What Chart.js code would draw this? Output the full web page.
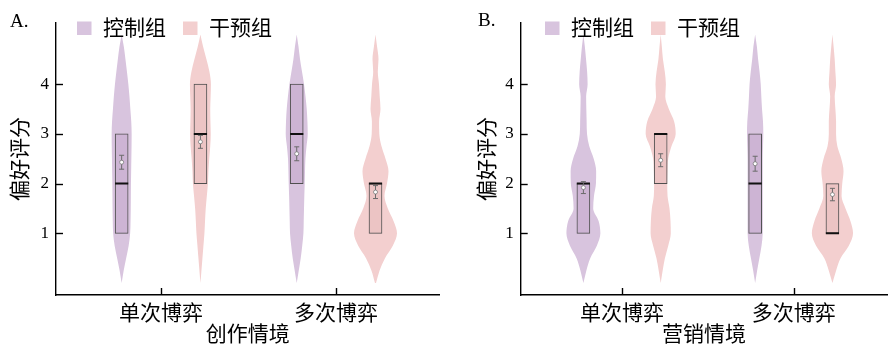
<!DOCTYPE html>
<html>
<head>
<meta charset="utf-8">
<script src="https://cdn.jsdelivr.net/npm/chart.js@4/dist/chart.umd.min.js"></script>
<style>
  html, body { margin: 0; padding: 0; background: #fff; overflow: hidden; }
  #wrap { position: relative; width: 896px; height: 346px; }
  canvas { position: absolute; top: 0; }
  #panelA { left: 0; }
  #panelB { left: 448px; }
</style>
</head>
<body>
<div id="wrap">
  <canvas id="panelA" width="448" height="346"></canvas>
  <canvas id="panelB" width="448" height="346"></canvas>
</div>
<script>
// ---- data ----
const groups = ['控制组', '干预组'];
const games = ['单次博弈', '多次博弈'];
const yTicks = [1, 2, 3, 4];
const densityLevels = [0, 0.25, 0.5, 0.75, 1, 1.25, 1.5, 1.75, 2, 2.25, 2.5, 2.75, 3, 3.25, 3.5, 3.75, 4, 4.25, 4.5, 4.75, 5];

// 创作情境 — control group
const ctrlQ1A = [1, 2];
const ctrlMedA = [2, 3];
const ctrlQ3A = [3, 4];
const ctrlMeanA = [2.43, 2.60];
const ctrlSeA = [0.14, 0.14];
const ctrlDensA = [
  [0, 2, 4.5, 7, 8.5, 8.9, 9.1, 9.2, 9.3, 9.5, 9.7, 9.9, 10, 9.6, 8.7, 7.8, 6.7, 5.3, 3.8, 2.2, 0],
  [0, 2, 4, 5.5, 6.7, 7, 7.3, 7.6, 8, 8.3, 8.7, 9.8, 11, 10.7, 10, 8.8, 7.3, 5.3, 3.3, 1.8, 0]
];
// 创作情境 — intervention group
const intQ1A = [2, 1];
const intMedA = [3, 2];
const intQ3A = [4, 2];
const intMeanA = [2.84, 1.83];
const intSeA = [0.13, 0.13];
const intDensA = [
  [0, 1, 2, 3, 4, 4.6, 5.3, 6.4, 7.5, 8, 8.8, 9.8, 10.3, 10, 9.8, 10.2, 10.5, 9, 6, 2.7, 0],
  [0.5, 4, 9.5, 17.3, 21.5, 18, 12.3, 9, 11.5, 13, 10, 6, 3.8, 3.6, 5, 4.2, 3.5, 2.3, 3, 1.6, 0]
];

// 营销情境 — control group
const ctrlQ1B = [1, 1];
const ctrlMedB = [2, 2];
const ctrlQ3B = [2, 3];
const ctrlMeanB = [1.92, 2.40];
const ctrlSeB = [0.12, 0.15];
const ctrlDensB = [
  [0, 3, 7, 13.7, 17.3, 15.5, 10, 10.8, 12.8, 13, 10.5, 6, 3.7, 3.3, 3, 2.8, 4.3, 3.8, 2.7, 1.5, 0],
  [0, 2, 4.3, 6.5, 7.7, 7.7, 7.7, 7.7, 7.7, 7.7, 7.7, 8, 8.3, 8, 7, 6.3, 5.7, 4.5, 3, 1.8, 0]
];
// 营销情境 — intervention group
const intQ1B = [2, 1];
const intMedB = [3, 1];
const intQ3B = [3, 2];
const intMeanB = [2.47, 1.78];
const intSeB = [0.13, 0.125];
const intDensB = [
  [0, 2, 4.3, 7.7, 10.3, 10, 9, 7, 6.7, 7, 7.7, 11, 15.3, 13.7, 8.3, 4.7, 5.3, 4.2, 2.3, 1.2, 0],
  [0, 3.7, 8.3, 16.7, 21, 18.3, 13.3, 9.3, 10, 11.3, 9, 5, 3.7, 3.7, 3, 2.3, 3.7, 3, 2.3, 1.2, 0]
];

// ---- styling ----
const FONT = "'Liberation Serif', 'Noto Sans CJK SC', serif";
const DENS_TO_X = 1 / 175;     // violin half-width per density unit, in x-axis units
const GROUP_OFFSET = 0.225;    // distance of each group from its category centre
const palettes = [
  { violin: '#D8C4DE', box: '#CDB4D4' },
  { violin: '#F3CFCF', box: '#ECC4C4' }
];

Chart.defaults.font.family = FONT;
Chart.defaults.color = '#000';

function groupDatasets(st, sign, pal) {
  const ds = [];
  const xs = games.map((g, gi) => gi + 1 + sign * GROUP_OFFSET);
  xs.forEach((c, gi) => {
    const d = st.dens[gi];
    ds.push({
      type: 'line', indexAxis: 'y',
      data: densityLevels.map((y, i) => ({ x: c - d[i] * DENS_TO_X, y })),
      borderWidth: 0, pointRadius: 0, backgroundColor: pal.violin,
      fill: false, cubicInterpolationMode: 'monotone', order: 6
    });
    ds.push({
      type: 'line', indexAxis: 'y',
      data: densityLevels.map((y, i) => ({ x: c + d[i] * DENS_TO_X, y })),
      borderWidth: 0, pointRadius: 0, backgroundColor: pal.violin,
      fill: '-1', cubicInterpolationMode: 'monotone', order: 6
    });
  });
  ds.push({
    type: 'bar',
    data: xs.map((x, i) => ({ x, y: [st.q1[i], st.q3[i]] })),
    barThickness: 13, grouped: false,
    backgroundColor: pal.box, borderColor: '#4f4f4f', borderWidth: 1, borderSkipped: false,
    order: 5
  });
  ds.push({
    type: 'scatter',
    data: xs.map((x, i) => ({ x, y: st.med[i] })),
    pointStyle: 'line', pointRadius: 6.6, borderColor: '#111', borderWidth: 2, order: 4
  });
  const whisker = [];
  xs.forEach((x, i) => {
    whisker.push({ x, y: st.mean[i] - st.se[i] }, { x, y: st.mean[i] + st.se[i] }, { x, y: null });
  });
  ds.push({
    type: 'line', data: whisker, borderColor: '#6b6b6b', borderWidth: 1,
    pointRadius: 0, spanGaps: false, fill: false, order: 3
  });
  ds.push({
    type: 'scatter',
    data: xs.flatMap((x, i) => [{ x, y: st.mean[i] - st.se[i] }, { x, y: st.mean[i] + st.se[i] }]),
    pointStyle: 'line', pointRadius: 2.5, borderColor: '#6b6b6b', borderWidth: 1, order: 2
  });
  ds.push({
    type: 'scatter',
    data: xs.map((x, i) => ({ x, y: st.mean[i] })),
    pointStyle: 'circle', pointRadius: 2, backgroundColor: '#fff',
    borderColor: '#7a7a7a', borderWidth: 0.8, order: 1
  });
  return ds;
}

// inward tick marks, legend and panel letter
const decorPlugin = {
  id: 'decor',
  afterDraw(chart, args, o) {
    const { ctx, chartArea, scales } = chart;
    ctx.save();
    ctx.strokeStyle = '#000';
    ctx.lineWidth = 1.4;
    scales.y.ticks.forEach(t => {
      const py = Math.round(scales.y.getPixelForValue(t.value)) + 0.5;
      ctx.beginPath(); ctx.moveTo(chartArea.left, py); ctx.lineTo(chartArea.left + 7, py); ctx.stroke();
    });
    scales.x.ticks.forEach(t => {
      const px = Math.round(scales.x.getPixelForValue(t.value)) + 0.5;
      ctx.beginPath(); ctx.moveTo(px, chartArea.bottom); ctx.lineTo(px, chartArea.bottom - 7); ctx.stroke();
    });
    // legend
    ctx.font = '21px ' + FONT;
    ctx.textBaseline = 'middle';
    ctx.textAlign = 'left';
    let lx = o.legendX;
    groups.forEach((g, i) => {
      ctx.fillStyle = palettes[i].violin;
      ctx.fillRect(lx, 21.5, 14.5, 13.5);
      ctx.fillStyle = '#000';
      ctx.fillText(g, lx + 26, 29);
      lx += 26 + ctx.measureText(g).width + 17;
    });
    // panel letter
    ctx.font = '19px ' + FONT;
    ctx.textBaseline = 'alphabetic';
    ctx.fillText(o.letter, o.letterX, o.letterY);
    ctx.restore();
  }
};

function makePanel(id, p) {
  const datasets = [
    ...groupDatasets(p.ctrl, -1, palettes[0]),
    ...groupDatasets(p.int, 1, palettes[1])
  ];
  return new Chart(document.getElementById(id), {
    type: 'scatter',
    data: { datasets },
    plugins: [decorPlugin],
    options: {
      responsive: false,
      animation: false,
      events: [],
      layout: { padding: { top: 23, right: p.padRight, left: p.padLeft, bottom: 0 } },
      plugins: {
        legend: { display: false },
        tooltip: { enabled: false },
        decor: { legendX: p.legendX, letter: p.letter, letterX: p.letterX, letterY: p.letterY }
      },
      scales: {
        x: {
          type: 'linear', min: p.xMin, max: p.xMax, offset: false, grace: 0,
          afterBuildTicks: s => { s.ticks = games.map((g, i) => ({ value: i + 1 })); },
          afterFit: s => { s.height = 51; },
          ticks: {
            callback: (v, i) => games[i], font: { size: 21 }, color: '#000',
            padding: 7, maxRotation: 0, autoSkip: false
          },
          grid: { display: false, drawTicks: false, offset: false },
          border: { display: true, color: '#000', width: 1.4 },
          title: { display: true, text: p.xTitle, font: { size: 21, lineHeight: 1 }, color: '#000', padding: { top: 0, bottom: 0.5 } }
        },
        y: {
          type: 'linear', min: -0.24, max: 5.23, offset: false, grace: 0,
          afterBuildTicks: s => { s.ticks = yTicks.map(v => ({ value: v })); },
          afterFit: s => { s.width = p.yWidth; },
          ticks: { font: { size: 17 }, color: '#000', padding: 7 },
          grid: { display: false, drawTicks: false, offset: false },
          border: { display: true, color: '#000', width: 1.4 },
          title: { display: true, text: '偏好评分', font: { size: 21, lineHeight: 1.2 }, color: '#000', padding: { top: 9, bottom: 0 } }
        }
      }
    }
  });
}

makePanel('panelA', {
  ctrl: { q1: ctrlQ1A, med: ctrlMedA, q3: ctrlQ3A, mean: ctrlMeanA, se: ctrlSeA, dens: ctrlDensA },
  int: { q1: intQ1A, med: intMedA, q3: intQ3A, mean: intMeanA, se: intSeA, dens: intDensA },
  xTitle: '创作情境', letter: 'A.', letterX: 10, letterY: 26.5,
  xMin: 0.4, xMax: 2.59, padLeft: 0, padRight: 8, yWidth: 56, legendX: 77
});

makePanel('panelB', {
  ctrl: { q1: ctrlQ1B, med: ctrlMedB, q3: ctrlQ3B, mean: ctrlMeanB, se: ctrlSeB, dens: ctrlDensB },
  int: { q1: intQ1B, med: intMedB, q3: intQ3B, mean: intMeanB, se: intSeB, dens: intDensB },
  xTitle: '营销情境', letter: 'B.', letterX: 30, letterY: 25.5,
  xMin: 0.41, xMax: 2.545, padLeft: 19, padRight: 0, yWidth: 53.7, legendX: 97
});
</script>
</body>
</html>
